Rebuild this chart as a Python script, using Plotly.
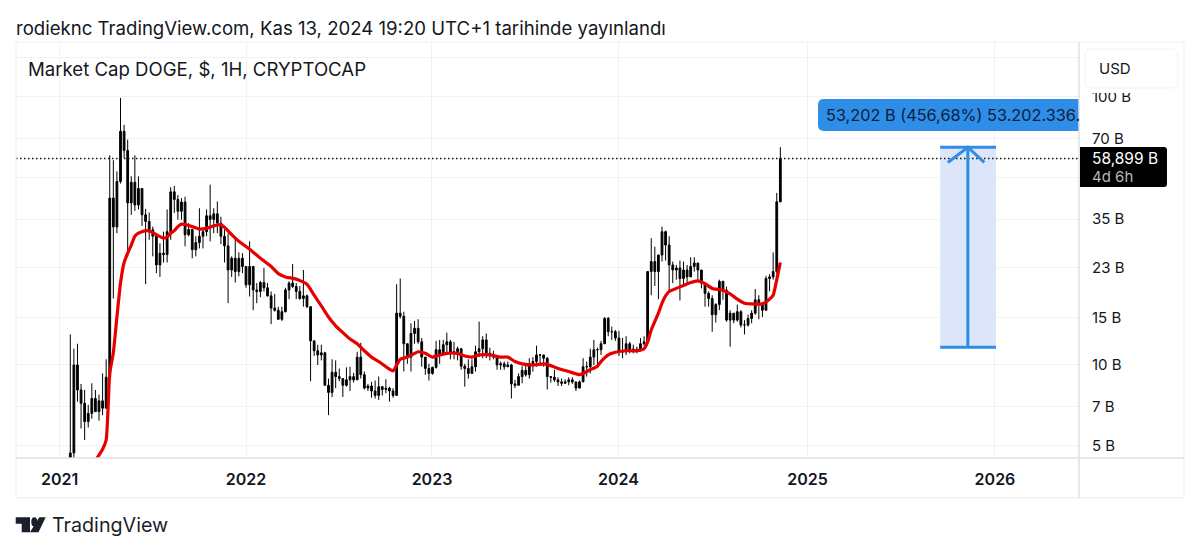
import math
import pandas as pd
import plotly.graph_objects as go

first_open = 4.5
closes = [
 4.7,10,8.07,7.2,6.15,6.6,7.5,6.7,7.35,6.9,
 9,41.9,32.7,48.3,74.3,63,40.2,48,39.5,45.5,
 36.3,34.3,31.9,30.2,23.6,26.1,25.8,31.4,44.2,41.4,
 37.4,40.5,30.6,32,26.9,28.6,30.2,31.4,36,34.9,
 36.6,33.8,30.2,27.8,22.6,25,22.3,25,23.3,19.9,
 23.3,19.05,18.8,20.3,19.4,18.1,16.3,16,14.8,15.8,
 19.05,20.2,19.6,18.8,17.7,18.1,16.5,12.3,11.3,10.9,
 11.1,8.4,7.9,9.4,9.05,8.9,8.4,8.8,9.05,8.8,
 10.7,9.2,8.2,8.35,8,7.7,8.3,8.1,8.2,8,
 7.7,15.6,15.2,12,10.7,13.1,13.7,12.2,10.7,9.7,
 9.3,9.8,11.4,10.9,11.9,12.2,11.2,11.2,11.5,9.9,
 9.7,9.3,9.85,11.2,11.5,12.4,11.05,10.9,10.7,10,
 10.1,9.85,10,8.5,8.4,9.05,9.55,9.2,10.1,10.3,
 10.9,10.9,10.6,9.05,9,8.8,8.65,8.55,8.65,8.8,
 8.65,8.2,8.65,9.85,9.85,10.7,11.4,11.4,12,14.9,
 13.3,13.3,12.6,11.2,11.2,12,11.4,11.45,11.3,12,
 12.2,22.3,24.3,22.3,25.7,31.4,28,23.6,22.6,23,
 21,22.6,21.3,23.3,24,22.6,20.2,18.5,17.7,15.4,
 16.8,20.5,19,14.7,15.6,14.7,15.8,14.1,14.1,14.9,
 15.6,17.5,17,16,21,21.3,22.3,40.6,58.9]
highs = [
 13,11.5,12,8.5,8.07,7.1,8.55,8.07,7.75,9.3,
 10.5,60.5,58,52.7,99,78.6,69.2,50.5,60.5,50.5,
 45,38.2,37,32.8,29.3,28.4,31.4,38,46,46.5,
 43,41.9,42.4,33.8,30.6,30.2,38.4,32.4,38,47,
 38.4,40.7,35.7,32,30.9,25.4,29.6,26.3,26.1,23.3,
 28.9,23.3,20.2,20.6,23,20.2,18.8,18.4,16.5,16.5,
 19.4,20.5,23.8,20.2,19.7,22.6,18.3,16.5,12.3,11.9,
 11.9,11.2,8.9,10.5,10.4,9.7,8.9,9.8,9.85,9.35,
 11.2,12.1,9.45,8.5,8.65,8.75,9.05,8.35,8.85,8.3,
 8.2,20,21,15.8,12,14.3,14.6,14.8,12.6,10.6,
 10.1,9.85,12.3,12.4,12.4,13.2,12.4,12.2,11.7,11,
 10.1,10.5,10.5,11.8,14.5,12.8,13.1,11.6,11.3,10.7,
 10.3,10.3,10.3,10.1,8.8,9.3,9.9,10,10.6,10.7,
 11.8,11,10.9,10.7,9.1,9.6,9,8.9,8.85,9,
 9,8.65,8.75,10.6,10.3,11.5,12.4,11.6,12.3,15.1,
 15.1,13.9,13.5,13.4,12.6,12.8,12.2,11.9,11.7,12.6,
 12.8,22.3,29.7,27.6,25.7,32.8,31.7,30.2,24.3,23.6,
 24.5,24.3,23.6,25.2,25.2,24,21.6,20.2,18.8,18.2,
 17,20.8,20.6,19.6,16,15.6,16.8,16,14.7,15.4,
 16,19.2,18.2,17,21.5,21.8,26.3,43.8,64.85]
lows = [
 4.4,4.4,7.3,5.8,5.25,5.85,6.3,6.7,6.2,6.5,
 7.2,8.9,17.7,31,47.5,59,25.4,36.3,37.5,38,
 33,20,29.3,25.4,22,21.3,24.1,24.1,29.3,36.9,
 34.8,34.8,27.7,30.2,25,25.4,27.2,27.2,30.2,28.9,
 31,31,28.2,24.1,17,21.3,20.3,21.4,22,19.4,
 18,16,17,17.9,18.8,18,14.2,15.8,14.7,14.6,
 15.7,17.6,19.4,17.6,17.5,16.5,16.3,8.7,10.8,10,
 10.4,8.4,6.5,7.6,8.2,8.7,7.6,8.3,8,8.6,
 8.85,8.9,8.1,8,7.55,7.5,7.4,7.7,7.85,7.3,
 7.55,7.85,14.9,9.45,10.1,9.45,12,12,9.85,9.2,
 8.75,9.2,9.7,10.1,11.1,11.1,10.5,10.5,10.4,9.6,
 8.3,8.9,9.3,9.45,10.7,10.6,10.6,10.4,10.5,9.6,
 9.6,9.6,9.85,7.5,8.2,8.4,8.55,9.05,8.9,9.45,
 9.85,10.1,9.85,8.1,8.6,8.65,8.35,8.35,8.5,8.4,
 8.5,8,8.2,8.65,9.05,9.3,10,10,10.9,12.2,
 12.8,12.4,12.3,10.8,10.6,10.9,11.05,11.05,11.05,11.5,
 11.8,12,18.2,19.7,17.6,24.3,24.5,18.8,20.2,20.8,
 17.4,19.9,19.9,21.5,22.3,20.5,19.3,16.5,16.5,13.3,
 14.4,16,17.5,14.5,11.7,14.3,14.5,13.8,13,13.9,
 14.3,15.4,14.8,15.1,16,18.8,20.8,21.9,40.4]

ma_weeks = [7,9,10,11,12,13,14,15,16,17,18,19,20,21,22,23,24,26,27,28,29,30,31,32,34,36,38,40,42,43,45,47,50,53,56,58,60,63,66,68,70,72,
 74,76,78,80,82,84,86,88,90,91,92,94,96,97,99,101,103,105,108,110,112,114,117,120,122,124,126,129,132,133,136,139,142,143,145,147,
 148,150,152,155,158,160,161,162,164,165,166,167,169,171,173,175,177,179,182,184,186,188,190,193,195,196,197,198]
ma_vals = [4.4,4.85,5.25,9.3,11.1,15.1,20.2,24.1,26.1,28,30.2,31,31.4,31.7,31.6,31.2,30.6,29.7,30,31,31.7,32.8,33.5,33.4,32.8,32.1,32.3,33,33.3,32.6,30.6,28.9,27,25,23.3,21.9,21.3,20.9,20,18.2,16.6,15.1,
 14,13.2,12.5,12,11.3,10.7,10.3,9.85,9.5,10,10.5,10.7,11.05,11.2,11.05,10.7,10.9,11.05,11.05,10.8,10.7,10.9,10.9,10.7,10.7,10.3,10.1,10,10.1,10.05,9.7,9.45,9.2,9.3,9.6,9.9,
 10.3,10.9,11.15,11.3,11.3,11.5,12.2,13.5,15.6,17,18.1,18.8,19.3,19.8,20.3,20.6,20.1,19.3,19,18.4,17.6,17,16.9,16.9,17.6,18.2,20.8,24.1]

y_ticks = [5,7,10,15,23,35,50,70,100,140]
y_labels = ["5 B","7 B","10 B","15 B","23 B","35 B","","70 B","100 B",""]
x_ticks = ["2021-01-01","2021-12-31","2022-12-29","2023-12-28","2024-12-31","2026-01-01"]
x_labels = ["2021","2022","2023","2024","2025","2026"]
last_price = 58.899
measure_low, measure_high = 11.65, 64.85

weeks = pd.date_range("2021-01-22", periods=len(closes), freq="7D")
opens = [first_open] + closes[:-1]
highs2 = [max(h, o, c) for h, o, c in zip(highs, opens, closes)]
lows2 = [min(l, o, c) for l, o, c in zip(lows, opens, closes)]

L, R, T, B = 16, 1079, 42, 458
X0, X1 = "2020-10-08", "2026-06-14"
px = lambda x: (x - L) / (R - L)
py = lambda y: (B - y) / (B - T)
INK = "#131722"; GRID = "#f1f2f5"; EDGE = "#e3e4e8"; BLUE = "#2e8de6"
FONT = "Inter, Roboto, sans-serif"

fig = go.Figure()
mx0, mx1, mc = "2025-09-16", "2026-01-03", "2025-11-09"
fig.add_trace(go.Scatter(x=[mx0,mx1,mx1,mx0,mx0], y=[measure_low,measure_low,measure_high,measure_high,measure_low],
    fill="toself", fillcolor="#dde6f8", line=dict(width=0), mode="lines", hoverinfo="skip"))
fig.add_trace(go.Scatter(x=[X0,X1], y=[last_price,last_price], mode="lines",
    line=dict(color="#111111", width=1.5, dash="1.5px,2.5px"), hoverinfo="skip"))
fig.add_trace(go.Candlestick(x=weeks, open=opens, high=highs2, low=lows2, close=closes,
    increasing=dict(line=dict(color="#000000", width=1), fillcolor="#000000"),
    decreasing=dict(line=dict(color="#000000", width=1), fillcolor="#000000"),
    whiskerwidth=0, hoverinfo="skip"))
fig.add_trace(go.Scatter(x=[weeks[i] for i in ma_weeks], y=ma_vals, mode="lines",
    line=dict(color="#e60000", width=3.2, shape="spline", smoothing=0.5), hoverinfo="skip"))
for xs, ys, w in [
    ([mx0,mx1],[measure_low,measure_low],3),
    ([mx0,mx1],[measure_high,measure_high],3),
    ([mc,mc],[measure_low,measure_high],3),
    (["2025-10-01",mc,"2025-12-11"],[56.9,measure_high,56.9],3)]:
    fig.add_trace(go.Scatter(x=xs, y=ys, mode="lines", line=dict(color=BLUE, width=w), hoverinfo="skip"))

shapes = []
def frame(x0,y0,x1,y1,color=EDGE,w=1.2):
    shapes.append(dict(type="line", xref="paper", yref="paper", x0=px(x0), y0=py(y0), x1=px(x1), y1=py(y1),
                       line=dict(color=color, width=w), layer="above"))
def path(d, fill, line=None):
    shapes.append(dict(type="path", xref="paper", yref="paper", path=d, fillcolor=fill,
                       line=dict(color=line or fill, width=1 if line else 0), layer="above"))
def P(*pts):
    out=[]
    for cmd,*v in pts:
        out.append(cmd+" "+" ".join(f"{(px(v[i]) if i%2==0 else py(v[i])):.5f}" for i in range(len(v))))
    return " ".join(out)+" Z"
def rrect(x0,y0,x1,y1,rl,rr):
    return P(("M",x0+rl,y0),("L",x1-rr,y0),("Q",x1,y0,x1,y0+rr),("L",x1,y1-rr),("Q",x1,y1,x1-rr,y1),
             ("L",x0+rl,y1),("Q",x0,y1,x0,y1-rl),("L",x0,y0+rl),("Q",x0,y0,x0+rl,y0))

frame(16,42,1184,42,"#f1f2f5"); frame(16,42,16,498,"#f1f2f5"); frame(1184,42,1184,498,"#f1f2f5"); frame(16,498,1184,498,"#ececef")
frame(16,458,1184,458,"#dfe0e4",1.5)
path(rrect(818,99,1079,131,6,0), BLUE)
path(rrect(1080,147,1167,187,0,3), "#000000")
path(P(("M",1080,43),("L",1183,43),("L",1183,93),("L",1080,93)), "#ffffff")
path(rrect(1085,49,1178,88,7,7), "#ffffff", "#f1f2f5")
frame(1079,42,1079,498,"#dfe0e4",1.5)
# TradingView logo
path(P(("M",15.7,517.3),("L",30,517.3),("L",30,532.3),("L",21.7,532.3),("L",21.7,523.8),("L",15.7,523.8)), "#1b1f2b")
path(P(("M",39.3,517.3),("L",45.7,517.3),("L",38.5,532.3),("L",30,532.3)), "#1b1f2b")
shapes.append(dict(type="circle", xref="paper", yref="paper", x0=px(31.3), x1=px(37.3), y0=py(526.5), y1=py(517.3),
                   fillcolor="#1b1f2b", line=dict(width=0), layer="above"))

anns = []
def text(x,y,s,size=15,color=INK,weight=400,anchor="left"):
    anns.append(dict(xref="paper", yref="paper", x=px(x), y=py(y), text=s, showarrow=False, xanchor=anchor,
                     yanchor="middle", font=dict(family=FONT,size=size,color=color,weight=weight), align="left",
                     xshift=0, borderpad=0))
text(15,28,"rodieknc TradingView.com, Kas 13, 2024 19:20 UTC+1 tarihinde yayınlandı",18.6)
text(27,69,"Market Cap DOGE, $, 1H, CRYPTOCAP",18.6)
text(1098,68,"USD",15)
text(824.5,115,"53,202 B (456,68%) 53.202.336.",16.3,"#0f2038")
text(1091,158,"58,899 B",15.5,"#ffffff")
text(1091,176,"4d 6h",15,"#b8b8b8")
text(51,525,"TradingView",19.7,"#1b1f2b")

fig.update_layout(width=1200, height=553, margin=dict(l=L, r=1200-R, t=T, b=553-B), autosize=False,
    paper_bgcolor="#ffffff", plot_bgcolor="#ffffff", showlegend=False, shapes=shapes, annotations=anns,
    font=dict(family=FONT, color=INK))
fig.update_xaxes(type="date", range=[X0,X1], tickmode="array", tickvals=x_ticks, ticktext=x_labels,
    rangeslider=dict(visible=False), showgrid=True, gridcolor=GRID, gridwidth=1, zeroline=False,
    showline=False, ticks="", ticklabelstandoff=10, tickfont=dict(family=FONT,size=16,color=INK,weight=600))
fig.update_yaxes(type="log", range=[math.log10(4.5), math.log10(160)], side="right", tickmode="array",
    tickvals=y_ticks, ticktext=y_labels, showgrid=True, gridcolor=GRID, gridwidth=1, zeroline=False,
    showline=False, ticks="", ticklabelstandoff=12, tickfont=dict(family=FONT,size=15,color=INK))
fig.write_html("out.html", config=dict(displayModeBar=False),
    post_script="document.body.style.margin='0';document.body.style.overflow='hidden';")
